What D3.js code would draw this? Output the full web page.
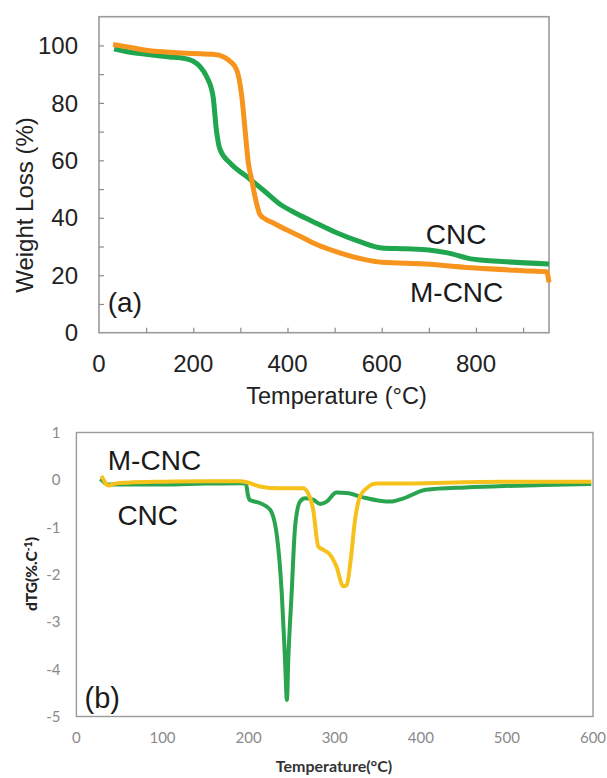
<!DOCTYPE html>
<html>
<head>
<meta charset="utf-8">
<script src="https://cdn.jsdelivr.net/npm/d3@7"></script>
<style>
  html, body { margin: 0; padding: 0; background: #fff; }
  svg { display: block; }
</style>
</head>
<body>
<svg id="chart" width="607" height="778"></svg>
<script>
// ---------- Data: (a) TGA weight loss ----------
const tgaXTicks = [0, 200, 400, 600, 800];
const tgaYTicks = [0, 20, 40, 60, 80, 100];

const cncTgaT = [32, 60, 100, 150, 172, 200, 215, 228, 242, 249, 257, 278, 313, 349, 385, 420, 460, 503, 552, 600, 650, 700, 740, 789, 855, 955];
const cncTgaW = [98.8, 97.8, 96.9, 96, 95.7, 94.5, 92.5, 89.3, 82.3, 70.7, 63.7, 59.1, 54.4, 49.6, 44.6, 41.4, 38.2, 34.9, 31.8, 29.5, 29.2, 28.8, 27.8, 25.7, 24.8, 23.9];

const mcncTgaT = [30, 60, 100, 150, 200, 242, 265, 278, 292, 303, 310, 317, 324, 331, 342, 355, 370, 398, 430, 462, 511, 560, 600, 691, 800, 900, 950, 955];
const mcncTgaW = [100.3, 99.5, 98.3, 97.6, 97.2, 96.9, 96, 94.5, 91.6, 82.3, 70.6, 59, 53.3, 47.4, 41, 39.4, 38.2, 35.8, 33.3, 30.7, 27.8, 25.6, 24.5, 23.9, 22.5, 21.6, 21.2, 17.5];

// ---------- Data: (b) DTG ----------
const dtgXTicks = [0, 100, 200, 300, 400, 500, 600];
const dtgYTicks = [1, 0, -1, -2, -3, -4, -5];

const cncDtgT = [28, 32, 36, 45, 60, 100, 150, 190, 197, 199, 201, 213, 225, 233, 238.5, 242.3, 244.5, 246.1, 250, 254, 259.7, 265.5, 275, 283, 290.7, 302, 314, 333, 352, 365, 380, 406, 452, 497, 542, 598];
const cncDtgV = [0.02, -0.05, -0.1, -0.1, -0.1, -0.1, -0.08, -0.07, -0.08, -0.3, -0.42, -0.49, -0.63, -1.2, -2.39, -3.8, -4.65, -3.8, -2.39, -0.99, -0.46, -0.39, -0.42, -0.51, -0.46, -0.27, -0.28, -0.37, -0.44, -0.46, -0.39, -0.21, -0.16, -0.13, -0.11, -0.09];

const mcncDtgT = [29, 31, 34, 38, 45, 60, 100, 150, 190, 198, 213, 236, 263, 269, 275, 281, 287, 294.5, 302, 310, 314, 318.6, 323.6, 329.4, 337, 349, 360, 406, 452, 497, 542, 598];
const mcncDtgV = [0.08, 0.02, -0.08, -0.12, -0.08, -0.06, -0.04, -0.03, -0.03, -0.05, -0.14, -0.18, -0.18, -0.28, -0.63, -1.41, -1.48, -1.58, -1.83, -2.25, -2.22, -1.69, -0.85, -0.35, -0.18, -0.08, -0.08, -0.07, -0.05, -0.04, -0.04, -0.04];

const zip = (a, b) => a.map((v, i) => [v, b[i]]);

const svg = d3.select("#chart");
const arial = "'Liberation Sans', Arial, Helvetica, sans-serif";
const calibri = "Lato, 'Open Sans', 'Noto Sans', sans-serif";

// ================= Panel (a) =================
(function () {
  const x = d3.scaleLinear().domain([0, 955]).range([99, 549]);
  const y = d3.scaleLinear().domain([0, 110]).range([332.7, 16.7]);
  const g = svg.append("g");

  g.append("rect")
    .attr("x", x.range()[0]).attr("y", y.range()[1])
    .attr("width", x.range()[1] - x.range()[0])
    .attr("height", y.range()[0] - y.range()[1])
    .attr("fill", "none").attr("stroke", "#9a9a9a").attr("stroke-width", 1.6);

  const xAxis = d3.axisTop(x).tickValues(d3.range(100, 951, 100)).tickSize(5).tickFormat("");
  g.append("g").attr("transform", `translate(0,${y(0)})`).call(xAxis)
    .call(s => s.select(".domain").remove())
    .call(s => s.selectAll("line").attr("stroke", "#8a8a8a").attr("stroke-width", 1.2));
  const yAxis = d3.axisRight(y).tickValues(d3.range(10, 101, 10)).tickSize(5).tickFormat("");
  g.append("g").attr("transform", `translate(${x(0)},0)`).call(yAxis)
    .call(s => s.select(".domain").remove())
    .call(s => s.selectAll("line").attr("stroke", "#8a8a8a").attr("stroke-width", 1.2));

  g.selectAll(".xl").data(tgaXTicks).enter().append("text")
    .attr("x", d => x(d)).attr("y", 371.5)
    .attr("text-anchor", "middle")
    .attr("font-family", arial).attr("font-size", 24).attr("fill", "#222")
    .text(d => d);
  g.selectAll(".yl").data(tgaYTicks).enter().append("text")
    .attr("x", 78).attr("y", d => y(d)).attr("dy", "0.36em")
    .attr("text-anchor", "end")
    .attr("font-family", arial).attr("font-size", 24).attr("fill", "#222")
    .text(d => d);

  g.append("text").attr("x", 336.5).attr("y", 404)
    .attr("text-anchor", "middle").attr("font-family", arial).attr("font-size", 23.5).attr("fill", "#222")
    .text("Temperature (°C)");
  g.append("text").attr("transform", "translate(33,205) rotate(-90)")
    .attr("text-anchor", "middle").attr("font-family", arial).attr("font-size", 24).attr("fill", "#222")
    .text("Weight Loss (%)");

  const line = d3.line().x(d => x(d[0])).y(d => y(d[1])).curve(d3.curveMonotoneX);
  g.append("path").datum(zip(cncTgaT, cncTgaW)).attr("d", line)
    .attr("fill", "none").attr("stroke", "#1fa64e").attr("stroke-width", 5).attr("stroke-linejoin", "round");
  g.append("path").datum(zip(mcncTgaT, mcncTgaW)).attr("d", line)
    .attr("fill", "none").attr("stroke", "#f7941d").attr("stroke-width", 5).attr("stroke-linejoin", "round");

  g.append("text").attr("x", 425.7).attr("y", 244).attr("font-family", arial).attr("font-size", 28).attr("fill", "#1a1a1a").text("CNC");
  g.append("text").attr("x", 410).attr("y", 301.7).attr("font-family", arial).attr("font-size", 28).attr("fill", "#1a1a1a").text("M-CNC");
  g.append("text").attr("x", 107.8).attr("y", 312).attr("font-family", arial).attr("font-size", 28).attr("fill", "#1a1a1a").text("(a)");
})();

// ================= Panel (b) =================
(function () {
  const x = d3.scaleLinear().domain([0, 600]).range([76.4, 593]);
  const y = d3.scaleLinear().domain([-5, 1]).range([716.5, 432.5]);
  const g = svg.append("g");

  g.append("rect")
    .attr("x", x.range()[0]).attr("y", y.range()[1])
    .attr("width", x.range()[1] - x.range()[0])
    .attr("height", y.range()[0] - y.range()[1])
    .attr("fill", "none").attr("stroke", "#9a9a9a").attr("stroke-width", 1.4);

  g.selectAll(".xl").data(dtgXTicks).enter().append("text")
    .attr("x", d => x(d)).attr("y", 743)
    .attr("text-anchor", "middle")
    .attr("font-family", calibri).attr("font-size", 15).attr("fill", "#8a8a8a")
    .text(d => d);
  g.selectAll(".yl").data(dtgYTicks).enter().append("text")
    .attr("x", 60.5).attr("y", d => y(d)).attr("dy", "0.36em")
    .attr("text-anchor", "end")
    .attr("font-family", calibri).attr("font-size", 15).attr("fill", "#8a8a8a")
    .text(d => d);

  g.append("text").attr("x", 334).attr("y", 772)
    .attr("text-anchor", "middle").attr("font-family", calibri).attr("font-weight", "bold")
    .attr("font-size", 16).attr("fill", "#333")
    .text("Temperature(°C)");
  const yt = g.append("text").attr("transform", "translate(37,574) rotate(-90)")
    .attr("text-anchor", "middle").attr("font-family", calibri).attr("font-weight", 900)
    .attr("font-size", 15.5).attr("fill", "#222");
  yt.append("tspan").text("dTG(%.C");
  yt.append("tspan").attr("font-size", 10.5).attr("dy", -5).text("-1");
  yt.append("tspan").attr("dy", 5).text(")");

  const line = d3.line().x(d => x(d[0])).y(d => y(d[1])).curve(d3.curveMonotoneX);
  g.append("path").datum(zip(cncDtgT, cncDtgV)).attr("d", line)
    .attr("fill", "none").attr("stroke", "#2aa44f").attr("stroke-width", 4).attr("stroke-linejoin", "round");
  g.append("path").datum(zip(mcncDtgT, mcncDtgV)).attr("d", line)
    .attr("fill", "none").attr("stroke", "#f5c11a").attr("stroke-width", 4).attr("stroke-linejoin", "round");

  g.append("text").attr("x", 107.8).attr("y", 470).attr("font-family", arial).attr("font-size", 28).attr("fill", "#1a1a1a").text("M-CNC");
  g.append("text").attr("x", 117.4).attr("y", 525).attr("font-family", arial).attr("font-size", 28).attr("fill", "#1a1a1a").text("CNC");
  g.append("text").attr("x", 84.5).attr("y", 707.7).attr("font-family", arial).attr("font-size", 29).attr("fill", "#1a1a1a").text("(b)");
})();
</script>
</body>
</html>
